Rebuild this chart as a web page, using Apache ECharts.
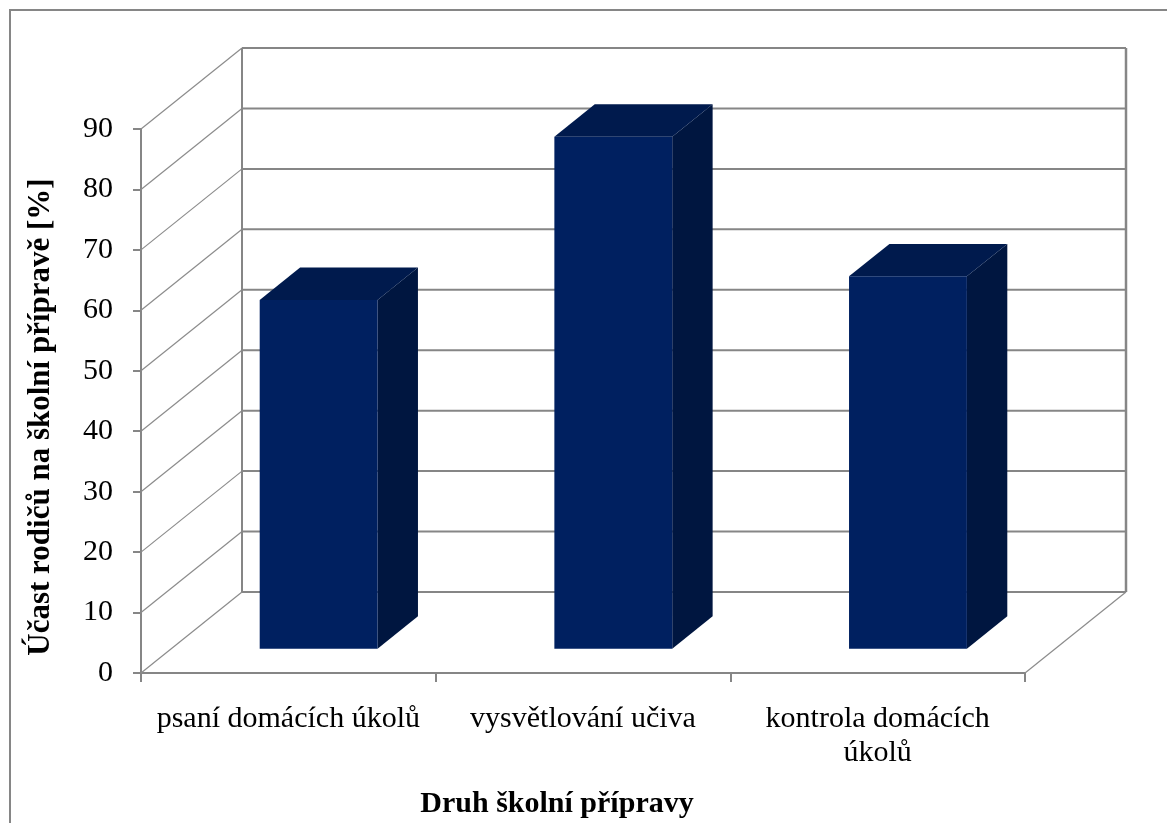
<!DOCTYPE html>
<html>
<head>
<meta charset="utf-8">
<title>Účast rodičů na školní přípravě</title>
<script src="https://cdn.jsdelivr.net/npm/echarts@6/dist/echarts.min.js"></script>
<style>
  html, body { margin: 0; padding: 0; background: #ffffff; }
  #chart { width: 1167px; height: 823px; }
</style>
</head>
<body>
<div id="chart"></div>
<script>
// Categories and values (percent of parents taking part)
const categories = ['psaní domácích úkolů', 'vysvětlování učiva', 'kontrola domácích\núkolů'];
const values = [57.7, 84.7, 61.6];
const yTicks = [0, 10, 20, 30, 40, 50, 60, 70, 80, 90];

const yAxisTitle = 'Účast rodičů na školní přípravě [%]';
const xAxisTitle = 'Druh školní přípravy';

// Pseudo-3D depth of the plot box (front plane -> back wall)
const DEPTH_X = 101;
const DEPTH_Y = -81;
// Bars sit between these fractions of the depth
const BAR_FRONT = 0.3;
const BAR_BACK = 0.7;
const BAR_WIDTH_RATIO = 0.4;

const GRID_COLOR = '#868686';
const FACE_FRONT = '#002060';
const FACE_TOP = '#001a4d';
const FACE_SIDE = '#001640';
const FONT = '"Liberation Serif", "Times New Roman", serif';

const chart = echarts.init(document.getElementById('chart'), null, { renderer: 'canvas' });

// Left wall diagonals and back wall gridlines, one per tick value
function renderWallLine(params, api) {
  const cs = params.coordSys;
  const y = api.coord([0, api.value(1)])[1];
  const x0 = cs.x;
  const x1 = cs.x + cs.width;
  return {
    type: 'group',
    children: [
      {
        type: 'line',
        shape: { x1: x0, y1: y, x2: x0 + DEPTH_X, y2: y + DEPTH_Y },
        style: { stroke: '#8c8c8c', lineWidth: 1.2 }
      },
      {
        type: 'line',
        shape: { x1: x0 + DEPTH_X, y1: y + DEPTH_Y, x2: x1 + DEPTH_X, y2: y + DEPTH_Y },
        style: { stroke: GRID_COLOR, lineWidth: 2 }
      }
    ]
  };
}

// Back wall edges, floor side edge and the vertical value-axis title
function renderFrame(params, api) {
  const cs = params.coordSys;
  const yBottom = api.coord([0, yTicks[0]])[1];
  const yTop = api.coord([0, yTicks[yTicks.length - 1]])[1];
  const x0 = cs.x;
  const x1 = cs.x + cs.width;
  return {
    type: 'group',
    children: [
      {
        type: 'line',
        shape: { x1: x0 + DEPTH_X, y1: yBottom + DEPTH_Y, x2: x0 + DEPTH_X, y2: yTop + DEPTH_Y },
        style: { stroke: GRID_COLOR, lineWidth: 2 }
      },
      {
        type: 'line',
        shape: { x1: x1 + DEPTH_X, y1: yBottom + DEPTH_Y, x2: x1 + DEPTH_X, y2: yTop + DEPTH_Y },
        style: { stroke: GRID_COLOR, lineWidth: 2.5 }
      },
      {
        type: 'line',
        shape: { x1: x1, y1: yBottom, x2: x1 + DEPTH_X, y2: yBottom + DEPTH_Y },
        style: { stroke: '#8c8c8c', lineWidth: 1.2 }
      },
      {
        type: 'text',
        x: x0 - 100,
        y: (yTop + yBottom) / 2 + 16,
        rotation: Math.PI / 2,
        style: {
          text: yAxisTitle,
          fill: '#000000',
          font: 'bold 31px ' + FONT,
          align: 'center',
          verticalAlign: 'middle',
          width: 800,
          overflow: 'truncate'
        }
      }
    ]
  };
}

// Box-shaped bar: front face, top face and right side face
function renderBar(params, api) {
  const idx = api.value(0);
  const val = api.value(1);
  const top = api.coord([idx, val]);
  const base = api.coord([idx, 0]);
  const half = api.size([1, 0])[0] * BAR_WIDTH_RATIO / 2;
  const fx = DEPTH_X * BAR_FRONT, fy = DEPTH_Y * BAR_FRONT;
  const bx = DEPTH_X * BAR_BACK, by = DEPTH_Y * BAR_BACK;
  const L = top[0] - half, R = top[0] + half;
  const yT = top[1], yB = base[1];
  return {
    type: 'group',
    children: [
      {
        type: 'polygon',
        shape: { points: [[R + fx, yT + fy], [R + bx, yT + by], [R + bx, yB + by], [R + fx, yB + fy]] },
        style: { fill: FACE_SIDE }
      },
      {
        type: 'polygon',
        shape: { points: [[L + fx, yT + fy], [R + fx, yT + fy], [R + bx, yT + by], [L + bx, yT + by]] },
        style: { fill: FACE_TOP }
      },
      {
        type: 'rect',
        shape: { x: L + fx, y: yT + fy, width: R - L, height: yB - yT },
        style: { fill: FACE_FRONT }
      }
    ]
  };
}

const option = {
  backgroundColor: '#ffffff',
  animation: false,
  grid: { left: 141, right: 142, top: 129, bottom: 150, containLabel: false },
  xAxis: {
    type: 'category',
    data: categories,
    boundaryGap: true,
    axisLine: { show: true, lineStyle: { color: GRID_COLOR, width: 2 } },
    axisTick: { show: true, length: 9, lineStyle: { color: GRID_COLOR, width: 2 } },
    axisLabel: {
      color: '#000000',
      fontFamily: FONT,
      fontSize: 30,
      lineHeight: 34,
      margin: 29,
      interval: 0,
      hideOverlap: false
    },
    splitLine: { show: false }
  },
  yAxis: {
    type: 'value',
    min: 0,
    max: 90,
    interval: 10,
    axisLine: { show: true, lineStyle: { color: GRID_COLOR, width: 2 } },
    axisTick: { show: true, length: 8, lineStyle: { color: GRID_COLOR, width: 2 } },
    axisLabel: { color: '#000000', fontFamily: FONT, fontSize: 30, margin: 28 },
    splitLine: { show: false }
  },
  graphic: [
    {
      type: 'rect',
      z: -10,
      silent: true,
      shape: { x: 10, y: 10, width: 1300, height: 1000 },
      style: { fill: 'none', stroke: GRID_COLOR, lineWidth: 2 }
    },
    {
      type: 'text',
      x: 557,
      y: 804,
      silent: true,
      style: {
        text: xAxisTitle,
        fill: '#000000',
        font: 'bold 30px ' + FONT,
        align: 'center',
        verticalAlign: 'middle'
      }
    }
  ],
  series: [
    {
      type: 'custom',
      name: 'walls',
      silent: true,
      clip: false,
      z: 1,
      renderItem: renderWallLine,
      data: yTicks.map(v => [0, v])
    },
    {
      type: 'custom',
      name: 'frame',
      silent: true,
      clip: false,
      z: 1,
      renderItem: renderFrame,
      data: [[0, 0]]
    },
    {
      type: 'custom',
      name: 'bars',
      clip: false,
      z: 5,
      renderItem: renderBar,
      data: values.map((v, i) => [i, v])
    }
  ]
};

chart.setOption(option);
</script>
</body>
</html>
